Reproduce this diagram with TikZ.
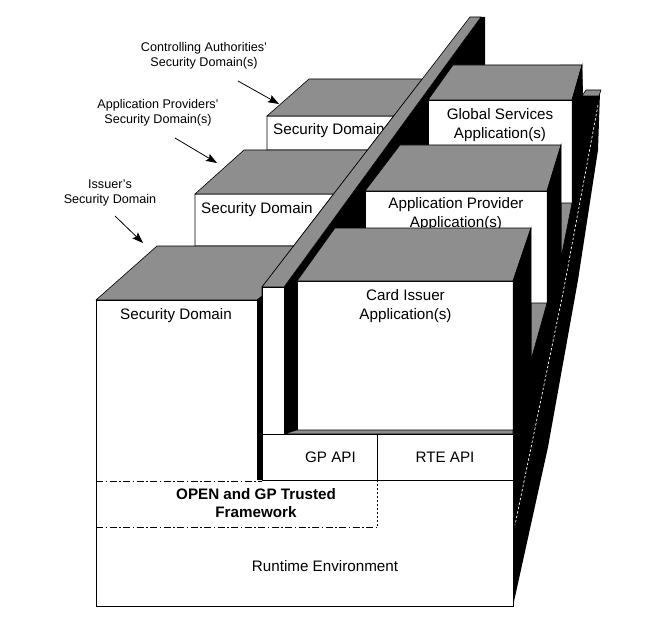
\documentclass[tikz,border=0pt]{standalone}
\usepackage{fontspec}
\setmainfont{Liberation Sans}
\usetikzlibrary{arrows.meta}
\definecolor{topgrey}{RGB}{142,142,142}
\tikzset{
  topface/.style={fill=topgrey, draw=black, line width=0.6pt, line join=round},
  frontface/.style={fill=white, draw=black, line width=0.8pt},
  sideface/.style={fill=black, draw=black, line width=0.5pt},
  edge/.style={draw=black, line width=0.8pt},
  boxtext/.style={font=\fontsize{15.2}{18.3}\selectfont, align=center, inner sep=0pt},
  labeltext/.style={font=\fontsize{12.6}{15.2}\selectfont, align=center, inner sep=0pt},
  pointer/.style={-{Stealth[length=11pt,width=8pt,inset=2pt]}, line width=0.8pt},
  dashdot/.style={line width=0.8pt, dash pattern=on 7pt off 2.5pt on 1.5pt off 2.5pt},
  dotline/.style={line width=0.8pt, dash pattern=on 1.5pt off 2.5pt},
}
\begin{document}
\begin{tikzpicture}[x=1pt,y=-1pt]
\useasboundingbox (0,0) rectangle (652,631);

% right-hand black slabs (sides of the layers)
\fill[black] (513,606) -- (548,447) -- (578,280) -- (598,150) -- (600,92) -- (583,94)
  -- (582,65) -- (560,65) -- (513,300) -- cycle;
\draw[topface] (582,96) -- (586,90) -- (601,90) -- (599,96) -- cycle;

% shadow side of the wall
\fill[black] (284,434) -- (284,287) -- (481,17) -- (485,17) -- (485,66) -- (430,110)
  -- (430,150) -- (370,200) -- (370,240) -- (300,300) -- (297,430) -- cycle;

% Global Services box
\draw[frontface] (428,100) rectangle (572,203);
\node[boxtext] (gs) at (500,125) {Global Services\\Application(s)};
\draw[topface] (428,100) -- (453,65) -- (582,65) -- (572,100) -- cycle;
\draw[sideface] (572,100) -- (582,65) -- (582,200) -- (572,203) -- cycle;
\draw[topface] (561,203) -- (572,203) -- (561,258) -- cycle;

% Application Provider box
\draw[frontface] (365,191) rectangle (547,303);
\node[boxtext] (apapp) at (456,214) {Application Provider\\Application(s)};
\draw[topface] (365,191) -- (400,145) -- (561,145) -- (547,191) -- cycle;
\draw[sideface] (547,191) -- (561,145) -- (561,330) -- (547,330) -- cycle;
\draw[topface] (531,303) -- (547,303) -- (531,360) -- cycle;

% Card Issuer box
\draw[frontface] (297,281) rectangle (513,430);
\node[boxtext] (ci) at (405.5,306) {Card Issuer\\Application(s)};
\draw[topface] (297,281) -- (335,228) -- (531,228) -- (513,281) -- cycle;
\draw[sideface] (513,281) -- (531,228) -- (531,360) -- (513,430) -- cycle;
\draw[topface] (284,434) -- (297,430) -- (513,430) -- (513,434) -- cycle;

% Security Domain boxes (left of the wall)
\draw[frontface] (267,116) -- (393.7,116) -- (367.5,150) -- (267,150) -- cycle;
\node[boxtext, anchor=west] (sd3) at (273,131) {Security Domain};
\draw[topface] (267,116) -- (309,79) -- (422.2,79) -- (393.7,116) -- cycle;

\draw[frontface] (195,194) -- (333.6,194) -- (293.6,246) -- (195,246) -- cycle;
\node[boxtext, anchor=west] (sd2) at (201,210) {Security Domain};
\draw[topface] (195,194) -- (244,150) -- (367.5,150) -- (333.6,194) -- cycle;

\draw[topface] (96,300) -- (157,246) -- (293.6,246) -- (262,287) -- (262,296) -- (257,300) -- cycle;

% the wall
\draw[topface] (262,287) -- (470,17) -- (481,17) -- (284,287) -- cycle;

% front layer
\fill[white] (262,287) rectangle (284,434);
\draw[edge] (262,434) -- (262,287) -- (284,287);
\fill[white] (96,300) rectangle (257,480);
\draw[edge] (96,480) -- (96,300) -- (257,300) -- (257,480);
\fill[black] (257,300) -- (262,296) -- (262,480) -- (257,480) -- cycle;
\node[boxtext] (sd1) at (176,316) {Security Domain};

\draw[frontface] (262,434) rectangle (513,480);
\draw[edge] (377,434) -- (377,480);
\node[boxtext] (gpapi) at (330.5,457) {GP API};
\node[boxtext] (rteapi) at (445,457) {RTE API};

\fill[white] (96,481) rectangle (513,606);
\draw[edge] (96,480) -- (96,606) -- (513,606) -- (513,480);
\draw[dashdot] (96,481) -- (262,481);
\draw[dashdot] (96,527) -- (377,527);
\draw[dotline] (377,480) -- (377,527);
\node[boxtext, font=\fontsize{15.2}{18.8}\selectfont\bfseries] (open) at (256,503) {OPEN and GP Trusted\\Framework};
\node[boxtext] (rte) at (325,566) {Runtime Environment};

% layer separation on the right
\draw[white, line width=0.7pt, dash pattern=on 2.5pt off 2pt] (598,105) -- (563,293) -- (515,525);

% annotations
\node[labeltext] (ca) at (204,55.5) {Controlling Authorities'\\Security Domain(s)};
\node[labeltext] (apl) at (158,112.5) {Application Providers'\\Security Domain(s)};
\node[labeltext] (iss) at (110,193) {Issuer's\\Security Domain};
\coordinate (caS) at (238,81);   \coordinate (caT) at (279,104);
\coordinate (apS) at (175,138);  \coordinate (apT) at (217,163);
\coordinate (isS) at (115,216);  \coordinate (isT) at (143,243);
\draw[pointer] (caS) -- (caT);
\draw[pointer] (apS) -- (apT);
\draw[pointer] (isS) -- (isT);
\end{tikzpicture}
\end{document}
